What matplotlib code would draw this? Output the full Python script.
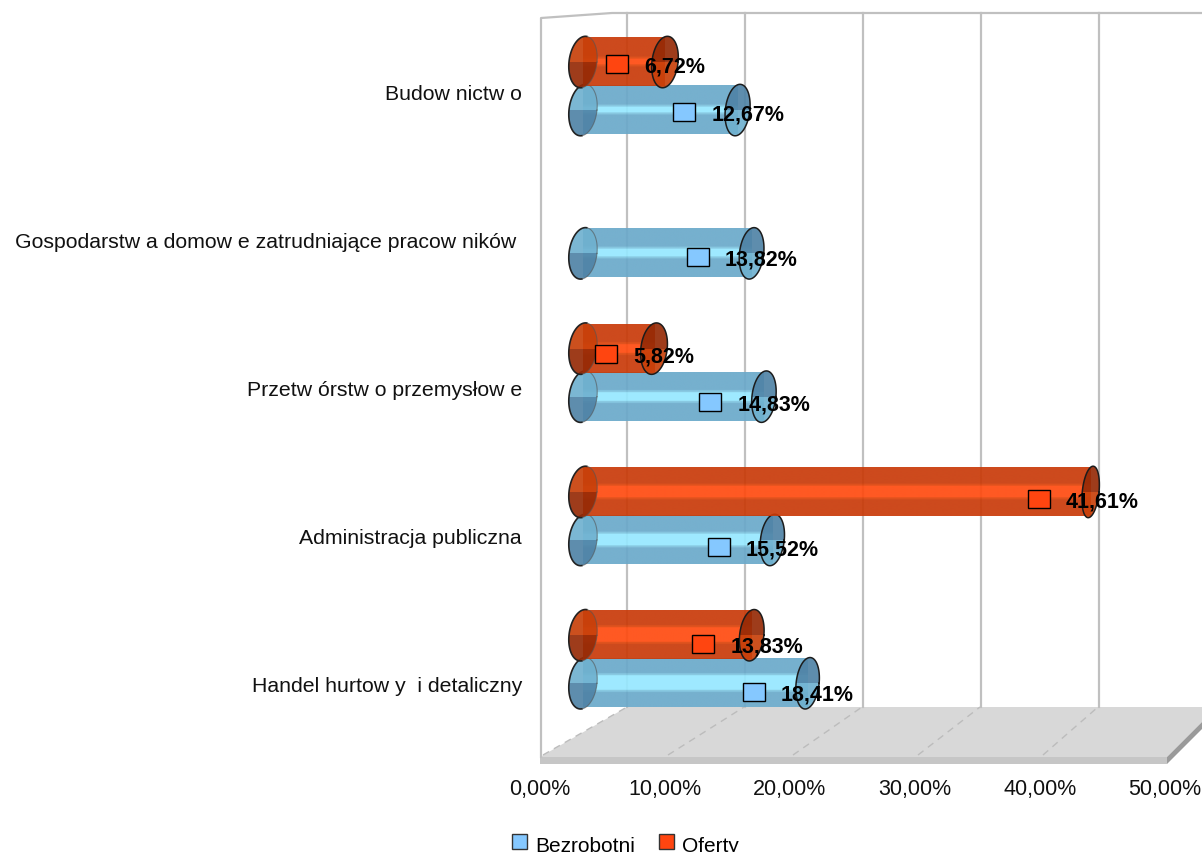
import matplotlib
matplotlib.use('Agg')
import matplotlib.pyplot as plt
import numpy as np
from matplotlib.colors import to_rgb
from matplotlib.patches import Patch, Polygon, Rectangle

plt.rcParams['font.family'] = ['Liberation Sans', 'DejaVu Sans']

# dane (od gory do dolu)
kategorie = ['Budow nictw o', 'Gospodarstw a domow e zatrudniające pracow ników ',
             'Przetw órstw o przemysłow e', 'Administracja publiczna',
             'Handel hurtow y  i detaliczny']
bezrobotni = [12.67, 13.82, 14.83, 15.52, 18.41]
oferty = [6.72, None, 5.82, 41.61, 13.83]
ticks_x = [0, 10, 20, 30, 40, 50]
ticks_x_txt = ['0,00%', '10,00%', '20,00%', '30,00%', '40,00%', '50,00%']

# szerokosc jasnego pasa na walcu, osobno dla kazdego wiersza
jasny_pas = [0.06, 0.08, 0.09, 0.12, 0.15]

W, H = 1202, 852
NIEB = dict(ciemny='#6aa9ca', sredni='#7cc2de', jasny='#96e8ff', cap_j='#6fb1cf', cap_c='#4f83a6', znak='#85c8ff')
POM = dict(ciemny='#c93a08', sredni='#dc4209', jasny='#ff4a0f', cap_j='#c8400a', cap_c='#962a06', znak='#ff4510')
SIATKA = '#c0c0c0'


def box(x0, y0, x1, y1):
    # piksele obrazka -> ulamki figury
    return [x0 / W, 1 - y1 / H, (x1 - x0) / W, (y1 - y0) / H]


def gradient(kol, pas):
    n = 200
    f = np.abs((np.arange(n) + 0.5) / n - 0.5)
    rgb = np.zeros((n, 1, 3))
    rgb[:] = to_rgb(kol['ciemny'])
    rgb[f < pas + 0.04] = to_rgb(kol['sredni'])
    rgb[f < pas] = to_rgb(kol['jasny'])
    return rgb


def walec(ax, v, y, h, kol, pas, z):
    ax.imshow(gradient(kol, pas), extent=[0, v, y + h / 2, y - h / 2], aspect='auto',
              alpha=0.92, zorder=z, interpolation='bilinear')
    t = np.linspace(0, 2 * np.pi, 120)
    k = 0.2
    for cx, gora, dol, lewy in [(0, kol['cap_j'], kol['cap_c'], True), (v, kol['cap_c'], kol['cap_j'], False)]:
        # dalsze denka sa wezsze (perspektywa)
        a = (14 - 0.135 * cx) / 12.2
        px = cx + a * np.cos(t) - k * np.sin(t)
        py = y + (h / 2 + 0.012) * np.sin(t)
        kap = Polygon(np.column_stack([px, py]), closed=True, fill=False, edgecolor='none', zorder=z)
        ax.add_patch(kap)
        img = ax.imshow(np.array([[to_rgb(gora)], [to_rgb(dol)]]), extent=[cx - 2, cx + 2, y + h / 2 + 0.02, y - h / 2 - 0.02],
                        aspect='auto', zorder=z + 0.1, alpha=0.92, interpolation='nearest')
        img.set_clip_path(kap)
        if lewy:
            m = np.cos(t) < 0.1
            ax.plot(np.where(m, px, np.nan), py, color='#222222', lw=1.2, zorder=z + 0.2)
            ax.plot(np.where(~m, px, np.nan), py, color='#555555', lw=0.8, alpha=0.6, zorder=z + 0.2)
        else:
            ax.plot(px, py, color='#1c1c1c', lw=1.1, zorder=z + 0.2)


fig = plt.figure(figsize=(W / 100, H / 100), dpi=100, facecolor='white')

# podloga i sciany w pikselach
tlo = fig.add_axes([0, 0, 1, 1], zorder=0)
tlo.axis('off')
tlo.add_patch(Polygon([(540, 757), (1167, 757), (1217, 707), (627, 707)], color='#d8d8d8', lw=0))
tlo.add_patch(Rectangle((540, 757), 627, 7, color='#c6c6c6', lw=0))
tlo.add_patch(Polygon([(1167, 757), (1217, 707), (1217, 714), (1167, 764)], color='#9a9a9a', lw=0))
tlo.plot([541, 541, 612, 612, W], [757, 18, 13, 13, 13], color=SIATKA, lw=1.6)
for xp, xk in zip([540, 665, 790, 915, 1040], [627, 744, 862, 980, 1098]):
    tlo.plot([xp + 3, xk], [755, 707], color='#bcbcbc', lw=1, ls=(0, (5, 4)))
tlo.set_xlim(0, W)
tlo.set_ylim(H, 0)

# tylna sciana z siatka
sciana = fig.add_axes(box(627, 13, 1217, 707), zorder=1)
sciana.set_facecolor('none')
sciana.set_xlim(0, 50)
sciana.set_xticks(ticks_x)
sciana.set_yticks([])
sciana.tick_params(length=0, labelbottom=False)
sciana.grid(axis='x', color=SIATKA, lw=1.6)
for l in sciana.get_xgridlines():
    l.set_clip_on(False)
for s in sciana.spines.values():
    s.set_visible(False)

# os X na przedniej krawedzi podlogi
os_x = fig.add_axes(box(540, 763, 1165, 764), zorder=2)
os_x.set_facecolor('none')
os_x.set_xlim(0, 50)
os_x.set_xticks(ticks_x, ticks_x_txt, fontsize=15.5, color='#111111')
os_x.set_yticks([])
os_x.tick_params(length=0, pad=10.7)
for s in os_x.spines.values():
    s.set_visible(False)

# kategorie
os_y = fig.add_axes(box(522, 19, 540, 759), zorder=2)
os_y.set_facecolor('none')
os_y.set_ylim(4.5, -0.5)
os_y.set_xticks([])
os_y.set_yticks(range(5), kategorie, fontsize=15.35, color='#111111')
os_y.tick_params(length=0, pad=0)
for s in os_y.spines.values():
    s.set_visible(False)

# walce
ax = fig.add_axes(box(583 - 2 * 12.2, 14.4, 1193, 730.9), zorder=3)
ax.set_facecolor('none')
ax.axis('off')
wys = 48 / 143.25
for i, (b, o) in enumerate(zip(bezrobotni, oferty)):
    walec(ax, b, i + wys / 2, wys, NIEB, jasny_pas[i], 2 + i)
    if o is not None:
        walec(ax, o, i - wys / 2, wys, POM, jasny_pas[i], 3 + i)
ax.set_xlim(-2, 50)
ax.set_ylim(4.5, -0.5)

# znaczniki i etykiety wartosci maja wlasna skale
et = fig.add_axes(box(536, 15.5, 1140.5, 740.5), zorder=4)
et.set_facecolor('none')
et.axis('off')
et.set_xlim(0, 50)
et.set_ylim(4.5, -0.5)
szer, wyso = 22 / 12.09, 18 / 145
for seria, znak, dy, dx in [(bezrobotni, NIEB['znak'], 24 / 145, -0.41), (oferty, POM['znak'], -24 / 145, 0)]:
    for i, v in enumerate(seria):
        if v is None:
            continue
        et.add_patch(Rectangle((v + dx - szer / 2, i + dy - wyso / 2), szer, wyso, facecolor=znak, edgecolor='black', lw=1))
        tekst = f'{v:.2f}'.replace('.', ',') + '%'
        et.annotate(tekst, (v + dx, i + dy), xytext=(19.4, -2), textcoords='offset points', fontsize=15.5,
                    fontweight='bold', color='black', va='center', ha='left')

uchwyty = [Patch(facecolor=NIEB['znak'], edgecolor='#333333', lw=1), Patch(facecolor=POM['znak'], edgecolor='#333333', lw=1)]
leg = fig.legend(uchwyty, ['Bezrobotni', 'Oferty'], loc='lower left', bbox_to_anchor=(512 / W, -0.005), ncols=2,
                 frameon=False, fontsize=15, handlelength=0.72, handleheight=0.72, handletextpad=0.4,
                 columnspacing=1.13, borderpad=0, borderaxespad=0)
for p in leg.get_patches():
    p.set_y(p.get_y() + 2.2)

fig.savefig('out.png', dpi=100)
